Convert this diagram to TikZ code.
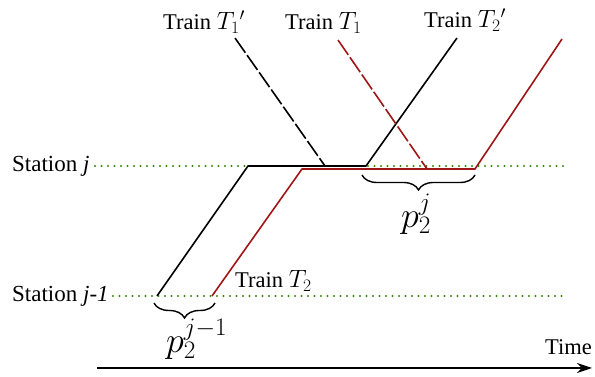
\RequirePackage{fix-cm}
\documentclass[tikz,border=0pt]{standalone}
\usepackage{fontspec}
\setmainfont{Liberation Serif}
\usetikzlibrary{arrows.meta,decorations.pathreplacing}
\definecolor{trainred}{RGB}{160,22,22}
\definecolor{dotgreen}{RGB}{50,135,10}
\newcommand{\trainmath}[1]{{\fontsize{25}{28}\selectfont$#1$}}
\begin{document}
\begin{tikzpicture}[x=1pt,y=1pt,
  trainlbl/.style={anchor=base west,inner sep=0pt,font=\fontsize{22.5}{25}\selectfont},
  stationlbl/.style={anchor=base west,inner sep=0pt,font=\fontsize{23}{26}\selectfont},
  plbl/.style={anchor=base west,inner sep=0pt,font=\fontsize{36}{40}\selectfont},
  blackpath/.style={line width=1.6pt,black,line join=round},
  redpath/.style={line width=1.6pt,trainred,line join=round},
  longdash/.style={dash pattern=on 18pt off 3pt},
  stationline/.style={dotgreen,line width=2.3pt,line cap=round,dash pattern=on 0pt off 6.5pt},
  bracestyle/.style={decorate,decoration={brace,mirror,amplitude=15pt},line width=1.4pt}]
\useasboundingbox (0,0) rectangle (595,377);

% station lines
\coordinate (sjA) at (95,211);
\coordinate (sjB) at (565,211);
\coordinate (sjmA) at (113,81);
\coordinate (sjmB) at (565,81);
\draw[stationline] (sjA) -- (sjB);
\draw[stationline] (sjmA) -- (sjmB);

% black train T2 / T2'
\coordinate (b0) at (157,81);
\coordinate (b1) at (248,211);
\coordinate (b2) at (366,211);
\coordinate (b3) at (457,339);
\draw[blackpath] (b0) -- (b1) -- (b2) -- (b3);

% red train T2
\coordinate (r0) at (212,81);
\coordinate (r1) at (302,208);
\coordinate (r2) at (475,208);
\coordinate (r3) at (562,338);
\draw[redpath] (r0) -- (r1) -- (r2) -- (r3);

% dashed trains T1' and T1
\coordinate (d0) at (235,339);
\coordinate (d1) at (325,211);
\draw[blackpath,longdash] (d0) -- (d1);
\coordinate (e0) at (338,337);
\coordinate (e1) at (427,208);
\draw[redpath,longdash] (e0) -- (e1);

% braces
\coordinate (brA) at (362,202);
\coordinate (brB) at (475,202);
\draw[bracestyle] (brA) -- (brB);
\coordinate (bsA) at (154,74);
\coordinate (bsB) at (215,74);
\draw[bracestyle] (bsA) -- (bsB);

% time axis
\coordinate (tA) at (97,9);
\coordinate (tB) at (592,9);
\draw[line width=1.4pt,-{Stealth[length=15pt,width=10pt]}] (tA) -- (tB);

% labels
\node[trainlbl] (l1) at (163,347) {Train \trainmath{T_1{}'}};
\node[trainlbl] (l2) at (285,347) {Train \trainmath{T_1}};
\node[trainlbl] (l3) at (424,349) {Train \trainmath{T_2{}'}};
\node[trainlbl] (l4) at (235,89) {Train \trainmath{T_2}};
\node[stationlbl] (s1) at (12,205) {Station \textit{j}};
\node[stationlbl] (s2) at (12,75) {Station \textit{j-1}};
\node[plbl] (p1) at (401,149) {$p_2^j$};
\node[plbl] (p2) at (166,24) {$p_2^{j-1}$};
\node[trainlbl] (tm) at (545,22) {Time};
\end{tikzpicture}
\end{document}
